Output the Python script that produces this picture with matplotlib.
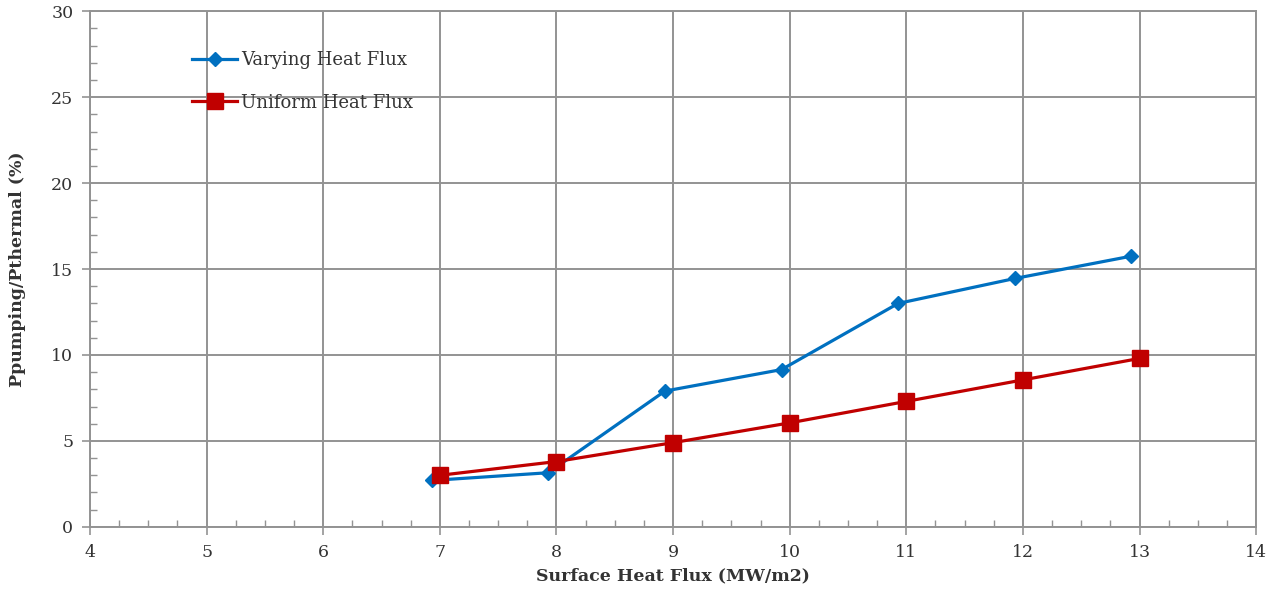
import matplotlib.pyplot as plt
from matplotlib.ticker import MultipleLocator

# data
x_varying = [6.93, 7.93, 8.93, 9.93, 10.93, 11.93, 12.93]
y_varying = [2.7, 3.15, 7.9, 9.15, 13.0, 14.45, 15.75]
x_uniform = [7, 8, 9, 10, 11, 12, 13]
y_uniform = [3.0, 3.8, 4.9, 6.05, 7.3, 8.55, 9.8]

x_ticks = [4, 5, 6, 7, 8, 9, 10, 11, 12, 13, 14]
y_ticks = [0, 5, 10, 15, 20, 25, 30]

plt.rcParams['font.family'] = ['DejaVu Serif']
grid_col = '#939393'
text_col = '#333333'

fig = plt.figure(figsize=(12.78, 5.9), dpi=100)
ax = fig.add_axes([0.0704, 0.107, 0.9125, 0.874])

ax.plot(x_varying, y_varying, color='#0070C0', lw=2.3, marker='D', ms=7.5,
        label='Varying Heat Flux', zorder=3)
ax.plot(x_uniform, y_uniform, color='#C00000', lw=2.3, marker='s', ms=11,
        label='Uniform Heat Flux', zorder=3)

ax.set_xlim(4, 14)
ax.set_ylim(0, 30)
ax.set_xticks(x_ticks)
ax.set_yticks(y_ticks)
ax.xaxis.set_minor_locator(MultipleLocator(0.25))
ax.yaxis.set_minor_locator(MultipleLocator(1))
ax.grid(True, which='major', color=grid_col, lw=1.4)
ax.set_axisbelow(True)

for s in ax.spines.values():
    s.set_color(grid_col)
    s.set_linewidth(1.4)

ax.tick_params(which='major', direction='out', length=6, width=1.2,
               color=grid_col, labelsize=12.5, labelcolor=text_col, pad=6)
ax.tick_params(which='minor', direction='in', length=5, width=1.0, color=grid_col)
ax.tick_params(axis='y', which='minor', left=True)

ax.set_xlabel('Surface Heat Flux (MW/m2)', fontsize=12.5, fontweight='bold',
              color=text_col, labelpad=5)
ax.set_ylabel('Ppumping/Pthermal (%)', fontsize=12.5, fontweight='bold',
              color=text_col, labelpad=18)

leg = ax.legend(loc='upper left', bbox_to_anchor=(0.08, 0.94), frameon=False,
                fontsize=13, handlelength=2.5, handletextpad=0.2,
                labelspacing=1.35, borderpad=0)
for t in leg.get_texts():
    t.set_color(text_col)

fig.savefig('out.png', dpi=100)
